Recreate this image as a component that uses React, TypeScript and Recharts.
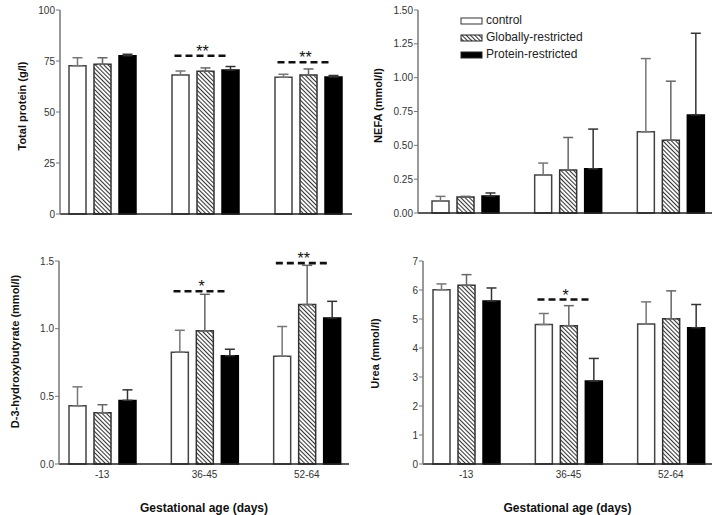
import React from 'react';
import { BarChart, Bar, XAxis, YAxis, ErrorBar, ReferenceLine, Legend } from 'recharts';

const categories = ['-13', '36-45', '52-64'];
const seriesNames = ['control', 'Globally-restricted', 'Protein-restricted'];

// Total protein (g/l)
const proteinControl = [72.7, 68.1, 67.0];
const proteinControlErr = [3.9, 2.0, 1.5];
const proteinGlobal = [73.4, 70.0, 68.1];
const proteinGlobalErr = [3.2, 1.6, 3.0];
const proteinRestricted = [77.6, 70.6, 67.2];
const proteinRestrictedErr = [0.7, 1.7, 0.7];
const proteinTicks = [0, 25, 50, 75, 100];
const proteinSig = [
  { cat: '36-45', y: 77.6, stars: '**' },
  { cat: '52-64', y: 74.4, stars: '**' },
];

// NEFA (mmol/l)
const nefaControl = [0.089, 0.28, 0.6];
const nefaControlErr = [0.034, 0.089, 0.541];
const nefaGlobal = [0.118, 0.317, 0.538];
const nefaGlobalErr = [0.005, 0.241, 0.436];
const nefaRestricted = [0.125, 0.327, 0.725];
const nefaRestrictedErr = [0.023, 0.293, 0.603];
const nefaTicks = [0, 0.25, 0.5, 0.75, 1.0, 1.25, 1.5];

// D-3-hydroxybutyrate (mmol/l)
const hbControl = [0.43, 0.826, 0.797];
const hbControlErr = [0.14, 0.162, 0.219];
const hbGlobal = [0.379, 0.984, 1.178];
const hbGlobalErr = [0.059, 0.27, 0.29];
const hbRestricted = [0.47, 0.8, 1.079];
const hbRestrictedErr = [0.078, 0.048, 0.123];
const hbTicks = [0, 0.5, 1.0, 1.5];
const hbSig = [
  { cat: '36-45', y: 1.276, stars: '*' },
  { cat: '52-64', y: 1.484, stars: '**' },
];

// Urea (mmol/l)
const ureaControl = [6.01, 4.81, 4.83];
const ureaControlErr = [0.2, 0.38, 0.76];
const ureaGlobal = [6.16, 4.77, 5.01];
const ureaGlobalErr = [0.37, 0.69, 0.96];
const ureaRestricted = [5.62, 2.86, 4.7];
const ureaRestrictedErr = [0.45, 0.78, 0.8];
const ureaTicks = [0, 1, 2, 3, 4, 5, 6, 7];
const ureaSig = [{ cat: '36-45', y: 5.67, stars: '*' }];

const FONT = '"Liberation Sans", Arial, Helvetica, sans-serif';

type Sig = { cat: string; y: number; stars: string };

type PanelProps = {
  id: string;
  left: number;
  top: number;
  width: number;
  height: number;
  margin: { top: number; right: number; left: number; bottom: number };
  yWidth: number;
  xHeight: number;
  pad: { left: number; right: number };
  ticks: number[];
  decimals: number;
  yLabel: string;
  yLabelDx: number;
  yLabelDy: number;
  control: number[];
  controlErr: number[];
  global: number[];
  globalErr: number[];
  restricted: number[];
  restrictedErr: number[];
  sig: Sig[];
  showX: boolean;
  legend?: boolean;
};

// dashed significance bar across a group, stars on top
const sigShape = (stars: string) => (props: any) => {
  const { x1, y1 } = props;
  return (
    <g>
      <line x1={x1 - 31} x2={x1 + 24} y1={y1} y2={y1} stroke="#111" strokeWidth={2.6} strokeDasharray="7 4" />
      <text x={x1 - 3} y={y1 + 1} textAnchor="middle" fontSize={16} fontFamily={FONT} fill="#111">
        {stars}
      </text>
    </g>
  );
};

function Hatch({ id }: { id: string }) {
  return (
    <pattern id={id} width={3} height={3} patternUnits="userSpaceOnUse" patternTransform="rotate(-45)">
      <rect width={3} height={3} fill="#fff" />
      <line x1={0.5} y1={0} x2={0.5} y2={3} stroke="#333" strokeWidth={1.1} />
    </pattern>
  );
}

const renderLegend = () => (
  <div style={{ fontFamily: FONT, fontSize: 12, color: '#222', lineHeight: '17px' }}>
    {seriesNames.map((name, i) => (
      <div key={name} style={{ display: 'flex', alignItems: 'center', height: 17 }}>
        <svg width={23} height={8} style={{ display: 'block' }}>
          <defs>
            <Hatch id={`legend-hatch-${i}`} />
          </defs>
          <rect
            x={1}
            y={1}
            width={21}
            height={6}
            fill={i === 0 ? '#fff' : i === 1 ? `url(#legend-hatch-${i})` : '#000'}
            stroke={i === 0 ? '#333' : '#222'}
            strokeWidth={1}
          />
        </svg>
        <span style={{ marginLeft: 3 }}>{name}</span>
      </div>
    ))}
  </div>
);

function Panel(p: PanelProps) {
  const data = categories.map((cat, i) => ({
    cat,
    control: p.control[i],
    controlErr: [0, p.controlErr[i]],
    global: p.global[i],
    globalErr: [0, p.globalErr[i]],
    restricted: p.restricted[i],
    restrictedErr: [0, p.restrictedErr[i]],
  }));
  const hatchId = `hatch-${p.id}`;
  const max = p.ticks[p.ticks.length - 1];
  return (
    <div style={{ position: 'absolute', left: p.left, top: p.top }}>
      <BarChart width={p.width} height={p.height} data={data} margin={p.margin} barGap={8}>
        <defs>
          <Hatch id={hatchId} />
        </defs>
        <XAxis
          dataKey="cat"
          height={p.xHeight}
          padding={p.pad}
          tickLine={false}
          axisLine={{ stroke: '#222', strokeWidth: 1.5 }}
          tick={p.showX ? { fontSize: 10, fill: '#333', fontFamily: FONT } : false}
          tickMargin={1}
          label={
            p.showX
              ? {
                  value: 'Gestational age (days)',
                  position: 'center',
                  dy: 18,
                  style: { fontSize: 12, fontWeight: 'bold', fill: '#111', fontFamily: FONT },
                }
              : undefined
          }
        />
        <YAxis
          width={p.yWidth}
          domain={[0, max]}
          ticks={p.ticks}
          interval={0}
          tickSize={4}
          tickMargin={1}
          tickFormatter={(v: number) => v.toFixed(p.decimals)}
          axisLine={{ stroke: '#777', strokeWidth: 1.5 }}
          tickLine={{ stroke: '#777' }}
          tick={{ fontSize: 10, fill: '#333', fontFamily: FONT }}
          label={{
            value: p.yLabel,
            angle: -90,
            position: 'center',
            dx: p.yLabelDx,
            dy: p.yLabelDy,
            style: { fontSize: 11, fontWeight: 'bold', fill: '#111', fontFamily: FONT },
          }}
        />
        <Bar dataKey="control" name={seriesNames[0]} fill="#fff" stroke="#444" strokeWidth={1.5} barSize={17} isAnimationActive={false}>
          <ErrorBar dataKey="controlErr" direction="y" width={5} stroke="#777" strokeWidth={1.5} />
        </Bar>
        <Bar dataKey="global" name={seriesNames[1]} fill={`url(#${hatchId})`} stroke="#333" strokeWidth={1.5} barSize={17} isAnimationActive={false}>
          <ErrorBar dataKey="globalErr" direction="y" width={5} stroke="#666" strokeWidth={1.5} />
        </Bar>
        <Bar dataKey="restricted" name={seriesNames[2]} fill="#000" stroke="#000" strokeWidth={1.5} barSize={17} isAnimationActive={false}>
          <ErrorBar dataKey="restrictedErr" direction="y" width={5} stroke="#333" strokeWidth={1.5} />
        </Bar>
        {p.sig.map((s) => (
          <ReferenceLine
            key={s.cat}
            segment={[
              { x: s.cat, y: s.y },
              { x: s.cat, y: s.y },
            ]}
            ifOverflow="visible"
            shape={sigShape(s.stars)}
          />
        ))}
        {p.legend && (
          <Legend
            layout="vertical"
            align="center"
            verticalAlign="middle"
            wrapperStyle={{ left: 100, top: 12, width: 'auto', height: 'auto' }}
            content={renderLegend}
          />
        )}
      </BarChart>
    </div>
  );
}

export default function App() {
  return (
    <div style={{ position: 'absolute', left: 0, top: 0, width: 720, height: 515, background: '#fff' }}>
      <Panel
        id="protein"
        left={0}
        top={0}
        width={360}
        height={240}
        margin={{ top: 10, right: 8, left: 0, bottom: 0 }}
        yWidth={60}
        xHeight={26}
        pad={{ left: -9, right: -8 }}
        ticks={proteinTicks}
        decimals={0}
        yLabel="Total protein (g/l)"
        yLabelDx={-8}
        yLabelDy={-6}
        control={proteinControl}
        controlErr={proteinControlErr}
        global={proteinGlobal}
        globalErr={proteinGlobalErr}
        restricted={proteinRestricted}
        restrictedErr={proteinRestrictedErr}
        sig={proteinSig}
        showX={false}
      />
      <Panel
        id="nefa"
        left={360}
        top={0}
        width={360}
        height={240}
        margin={{ top: 10, right: 8, left: 0, bottom: 0 }}
        yWidth={58}
        xHeight={27}
        pad={{ left: -4, right: -10 }}
        ticks={nefaTicks}
        decimals={2}
        yLabel="NEFA (mmol/l)"
        yLabelDx={-11}
        yLabelDy={-6}
        control={nefaControl}
        controlErr={nefaControlErr}
        global={nefaGlobal}
        globalErr={nefaGlobalErr}
        restricted={nefaRestricted}
        restrictedErr={nefaRestrictedErr}
        sig={[]}
        showX={false}
        legend
      />
      <Panel
        id="hb"
        left={0}
        top={240}
        width={360}
        height={275}
        margin={{ top: 21, right: 11, left: 0, bottom: 0 }}
        yWidth={59}
        xHeight={51}
        pad={{ left: -8, right: -9 }}
        ticks={hbTicks}
        decimals={1}
        yLabel="D-3-hydroxybutyrate (mmol/l)"
        yLabelDx={-14}
        yLabelDy={-11}
        control={hbControl}
        controlErr={hbControlErr}
        global={hbGlobal}
        globalErr={hbGlobalErr}
        restricted={hbRestricted}
        restrictedErr={hbRestrictedErr}
        sig={hbSig}
        showX
      />
      <Panel
        id="urea"
        left={360}
        top={240}
        width={360}
        height={275}
        margin={{ top: 21, right: 8, left: 0, bottom: 0 }}
        yWidth={63}
        xHeight={51}
        pad={{ left: -8, right: -10 }}
        ticks={ureaTicks}
        decimals={0}
        yLabel="Urea (mmol/l)"
        yLabelDx={-16}
        yLabelDy={-9}
        control={ureaControl}
        controlErr={ureaControlErr}
        global={ureaGlobal}
        globalErr={ureaGlobalErr}
        restricted={ureaRestricted}
        restrictedErr={ureaRestrictedErr}
        sig={ureaSig}
        showX
      />
    </div>
  );
}
